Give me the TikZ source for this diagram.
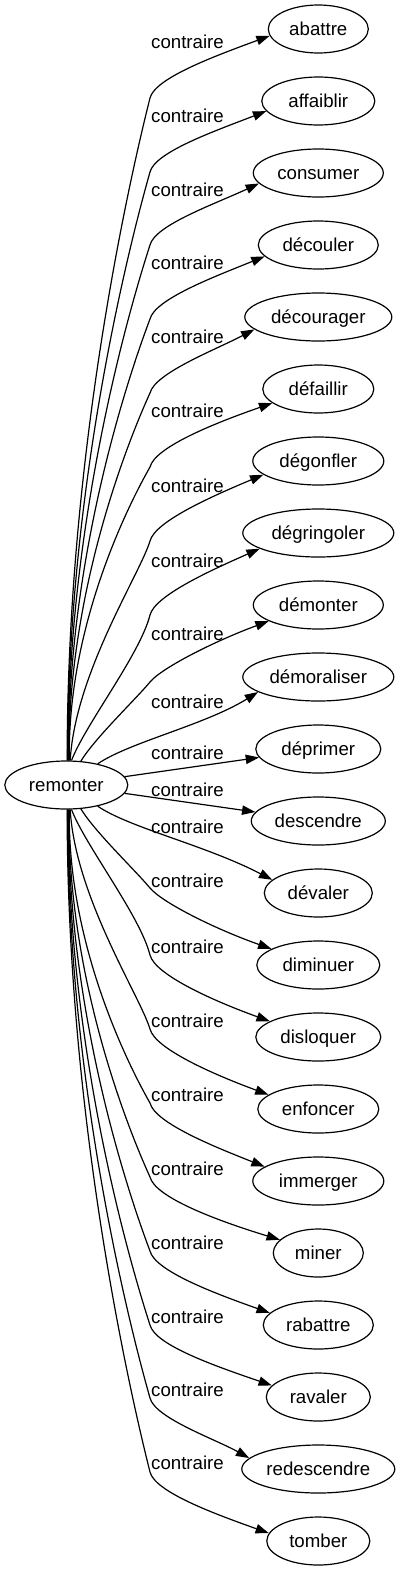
\documentclass[tikz,border=0pt]{standalone}
\usepackage{fontspec}
\setmainfont{Liberation Sans}
\usetikzlibrary{arrows.meta,shapes.geometric}
\begin{document}
\begin{tikzpicture}[x=0.75pt,y=-0.75pt,
  every node/.style={font=\fontsize{14pt}{16pt}\selectfont, text height=10pt, text depth=1pt, inner sep=0pt},
  word/.style={ellipse, draw, line width=0.9pt, minimum height=36pt, minimum width=#1*0.75pt},
  lbl/.style={},
  link/.style={draw, line width=0.9pt, -{Triangle[length=10pt,width=7pt]}}]
\useasboundingbox (0,0) rectangle (400,1571);

% source
\node[word=123] (n0) at (66.3,785) {remonter};
% targets
\node[word=100] (n1)  at (318.3,29)   {abattre};
\node[word=113] (n2)  at (318.3,101)  {affaiblir};
\node[word=130] (n3)  at (318.3,173)  {consumer};
\node[word=120] (n4)  at (318.3,245)  {découler};
\node[word=147] (n5)  at (318.3,317)  {décourager};
\node[word=111] (n6)  at (318.3,389)  {défaillir};
\node[word=131] (n7)  at (318.3,461)  {dégonfler};
\node[word=151] (n8)  at (318.3,533)  {dégringoler};
\node[word=130] (n9)  at (318.3,605)  {démonter};
\node[word=151] (n10) at (318.3,677)  {démoraliser};
\node[word=125] (n11) at (318.3,749)  {déprimer};
\node[word=134] (n12) at (318.3,821)  {descendre};
\node[word=108] (n13) at (318.3,893)  {dévaler};
\node[word=123] (n14) at (318.3,965)  {diminuer};
\node[word=125] (n15) at (318.3,1037) {disloquer};
\node[word=121] (n16) at (318.3,1109) {enfoncer};
\node[word=131] (n17) at (318.3,1181) {immerger};
\node[word=90]  (n18) at (318.3,1253) {miner};
\node[word=110] (n19) at (318.3,1325) {rabattre};
\node[word=104] (n20) at (318.3,1397) {ravaler};
\node[word=153] (n21) at (318.3,1469) {redescendre};
\node[word=103] (n22) at (318.3,1541) {tomber};

% labels
\foreach \ly [count=\i] in {42,116,190,263,337,411,486,561,634,702,753,790,827,881,947,1021,1095,1169,1243,1317,1390,1463}
  \node[lbl] (l\i) at (187.5,\ly) {contraire};

% upper knee edges
\foreach \j/\tgt/\ky/\dyd/\hw/\sa/\ua/\va/\ub/\vb in {
    1/n1/98/7/50/88/.5/1/.06/.12,
    2/n2/172/10/56.5/87/.5/1/.06/.12,
    3/n3/245/11/65/86/.5/1/.06/.12,
    4/n4/319/11.5/60/85/.5/1/.06/.12,
    5/n5/393/13/73.5/84/.5/1/.06/.12,
    6/n6/467/14/55.5/83/.5/1/.06/.12,
    7/n7/541/14/65.5/81/.6/.9/.15/.12,
    8/n8/615/15.5/75.5/78/.75/.78/.27/.12}{
  \pgfmathsetmacro\cy{29+72*(\j-1)}
  \pgfmathsetmacro\D{761-\ky}
  \pgfmathsetmacro\ax{150-83*\va}
  \pgfmathsetmacro\ay{\ky+\ua*\D}
  \pgfmathsetmacro\bx{150-83*\vb}
  \pgfmathsetmacro\by{\ky+\ub*\D}
  \pgfmathsetmacro\ty{\cy+\dyd}
  \pgfmathtruncatemacro\ea{180+atan(\dyd/(\hw*sqrt(1-(\dyd/24)^2)))}
  \draw[link] (n0.\sa) .. controls (\ax,\ay) and (\bx,\by) .. (150,\ky)
     .. controls (155,\ky-20) and (215,\ty+20) .. (\tgt.\ea);
}
% lower knee edges (mirrored)
\foreach \j/\tgt/\ky/\dyd/\hw/\sa/\ua/\va/\ub/\vb in {
    1/n22/98/7/51.5/88/.5/1/.06/.12,
    2/n21/172/10/76.5/87/.5/1/.06/.12,
    3/n20/245/11/52/86/.5/1/.06/.12,
    4/n19/319/11.5/55/85/.5/1/.06/.12,
    5/n18/393/13/45/84/.5/1/.06/.12,
    6/n17/467/14/65.5/83/.5/1/.06/.12,
    7/n16/541/14/60.5/81/.6/.9/.15/.12,
    8/n15/615/15.5/62.5/78/.75/.78/.27/.12}{
  \pgfmathsetmacro\cy{1541-72*(\j-1)}
  \pgfmathsetmacro\D{761-\ky}
  \pgfmathsetmacro\ax{150-83*\va}
  \pgfmathsetmacro\ay{1570-\ky-\ua*\D}
  \pgfmathsetmacro\bx{150-83*\vb}
  \pgfmathsetmacro\by{1570-\ky-\ub*\D}
  \pgfmathsetmacro\ty{\cy-\dyd}
  \pgfmathtruncatemacro\sb{360-\sa}
  \pgfmathtruncatemacro\ea{180-atan(\dyd/(\hw*sqrt(1-(\dyd/24)^2)))}
  \draw[link] (n0.\sb) .. controls (\ax,\ay) and (\bx,\by) .. (150,1570-\ky)
     .. controls (155,1590-\ky) and (215,\ty-20) .. (\tgt.\ea);
}
% middle edges
\draw[link] (n0) .. controls (95,738) and (135,700) .. (150,682)
   .. controls (162,667.6) and (215,641) .. (n9.198);
\draw[link] (n0) .. controls (95,832) and (135,870) .. (150,888)
   .. controls (162,902.4) and (215,929) .. (n14.161);
\draw[link] (n0) .. controls (130,742) and (205,725) .. (n10.194);
\draw[link] (n0) .. controls (130,828) and (205,845) .. (n13.164);
\draw[link] (n0) -- (n11);
\draw[link] (n0) -- (n12);
\end{tikzpicture}
\end{document}
